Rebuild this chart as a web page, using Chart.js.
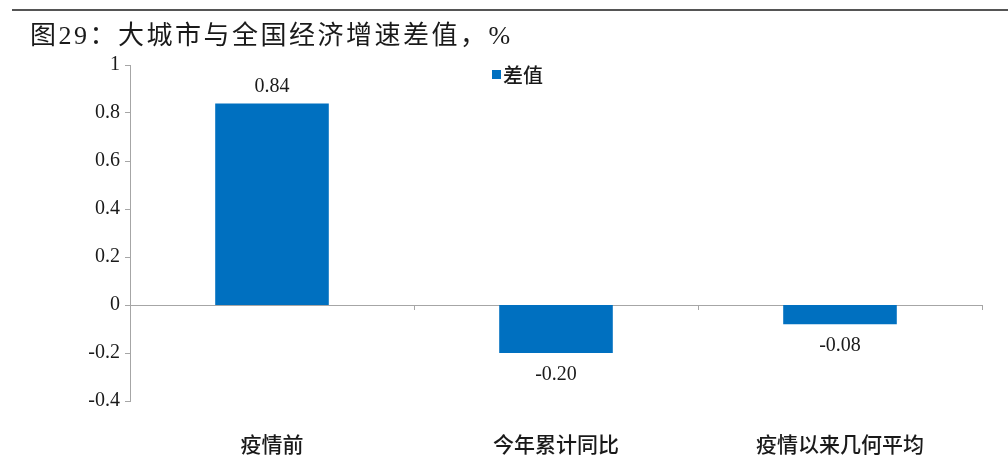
<!DOCTYPE html>
<html lang="zh">
<head>
<meta charset="UTF-8">
<title>大城市与全国经济增速差值</title>
<script src="https://cdn.jsdelivr.net/npm/chart.js"></script>
<style>
  body { margin: 0; background: #fff; }
  #wrap { position: relative; width: 1008px; height: 459px; }
  #topline { position: absolute; left: 12px; right: 0; top: 9px; height: 2px; background: #555; }
  #title { position: absolute; left: 30px; top: 14px; font: 26px "Liberation Serif", "Noto Sans CJK SC"; color: #1a1a1a; letter-spacing: 2.5px; }
  canvas { position: absolute; left: 0; top: 0; }
</style>
</head>
<body>
<div id="wrap">
  <canvas id="diffChart" width="1008" height="459"></canvas>
  <div id="topline"></div>
  <div id="title">图29：大城市与全国经济增速差值，%</div>
</div>
<script>
  var categories = ['疫情前', '今年累计同比', '疫情以来几何平均'];
  var diffValues = [0.84, -0.20, -0.08];
  var seriesName = '差值';
  var axisGray = '#a6a6a6';
  var barBlue = '#0070c0';

  // value labels, zero line ticks and legend
  var extras = {
    id: 'extras',
    afterDatasetsDraw: function(chart) {
      var c = chart.ctx, x = chart.scales.x, y = chart.scales.y;
      var meta = chart.getDatasetMeta(0);
      c.save();
      c.font = '20px "Liberation Serif"';
      c.fillStyle = '#1a1a1a';
      c.textAlign = 'center';
      c.textBaseline = 'middle';
      meta.data.forEach(function(bar, i) {
        var v = diffValues[i];
        if (v >= 0) {
          c.fillText(v.toFixed(2), bar.x, bar.y - 17);
        } else {
          c.fillText(v.toFixed(2), bar.x, bar.y + 22);
        }
      });
      // small ticks between categories on the zero line
      var y0 = y.getPixelForValue(0);
      c.strokeStyle = axisGray;
      c.lineWidth = 1;
      for (var i = 0; i < categories.length; i++) {
        var px = Math.round(x.getPixelForValue(i + 0.5)) + 0.5;
        c.beginPath();
        c.moveTo(px, y0);
        c.lineTo(px, y0 + 5);
        c.stroke();
      }
      // legend
      c.fillStyle = barBlue;
      c.fillRect(492, 70, 9, 9);
      c.fillStyle = '#1a1a1a';
      c.font = '500 20px "Noto Sans CJK SC"';
      c.textAlign = 'left';
      c.fillText(seriesName, 503, 75);
      c.restore();
    }
  };

  var ctx = document.getElementById('diffChart').getContext('2d');
  var diffChart = new Chart(ctx, {
    type: 'bar',
    data: {
      labels: categories,
      datasets: [{
        label: seriesName,
        data: diffValues,
        backgroundColor: barBlue,
        borderWidth: 0,
        categoryPercentage: 1,
        barPercentage: 0.4
      }]
    },
    options: {
      responsive: false,
      animation: false,
      layout: { padding: { top: 65, right: 26, left: 0, bottom: 0 } },
      plugins: { legend: { display: false }, tooltip: { enabled: false } },
      scales: {
        y: {
          min: -0.4,
          max: 1,
          afterFit: function(s) { s.width = 130; },
          ticks: {
            stepSize: 0.2,
            padding: 5,
            color: '#1a1a1a',
            font: { family: 'Liberation Serif', size: 20 },
            callback: function(v) { return Math.round(v * 10) / 10; }
          },
          border: { display: true, color: axisGray },
          grid: {
            drawOnChartArea: true,
            drawTicks: true,
            tickLength: 5,
            tickColor: axisGray,
            color: function(c) { return c.tick && Math.abs(c.tick.value) < 1e-9 ? axisGray : 'rgba(0,0,0,0)'; }
          }
        },
        x: {
          afterFit: function(s) { s.height = 58; },
          border: { display: false },
          grid: { display: false },
          ticks: {
            padding: 22,
            color: '#1a1a1a',
            font: { family: 'Noto Sans CJK SC', size: 21, weight: 500 }
          }
        }
      }
    },
    plugins: [extras]
  });
</script>
</body>
</html>
